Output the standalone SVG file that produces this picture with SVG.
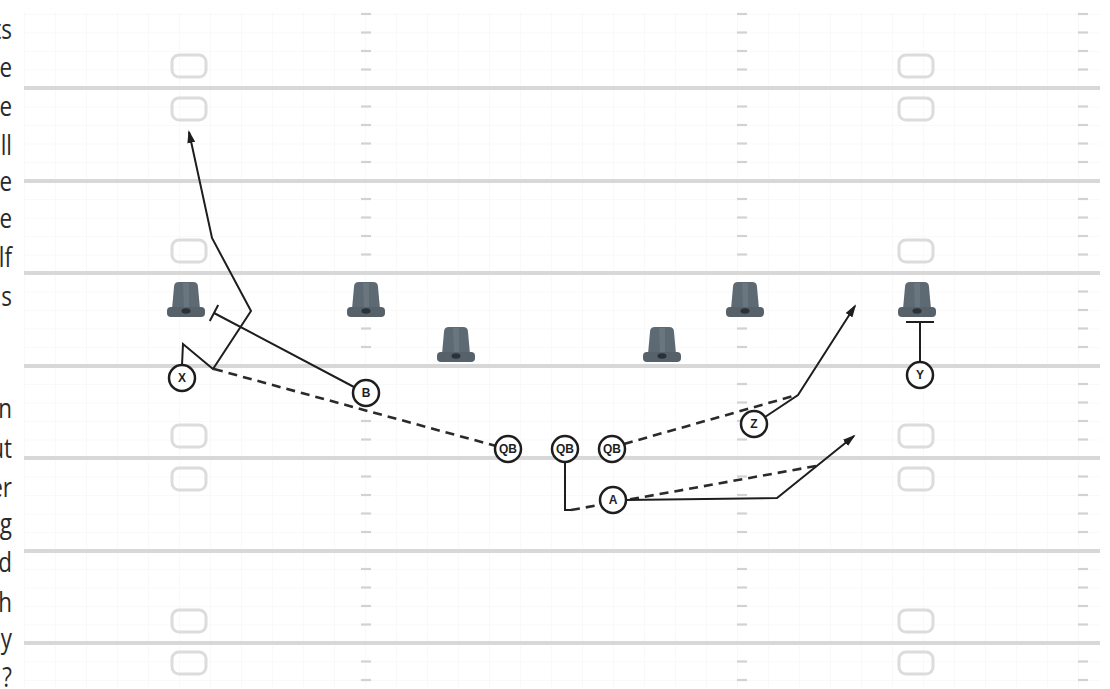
<svg xmlns="http://www.w3.org/2000/svg" width="1110" height="689" viewBox="0 0 1110 689">
<style>
.yard{stroke:#d8d8d8;stroke-width:4;fill:none}
.hash{stroke:#d2d2d2;stroke-width:2.2}
.num{fill:none;stroke:#dcdcdc;stroke-width:3}
.route{fill:none;stroke:#1e1e1e;stroke-width:2;stroke-linejoin:miter}
.dash{fill:none;stroke:#2a2a2a;stroke-width:2.6;stroke-dasharray:9 6}
.player circle{fill:#fff;stroke:#1e1e1e;stroke-width:2.5}
.player text{font-family:"Liberation Sans",Arial,sans-serif;font-size:12px;font-weight:bold;fill:#1e1e1e;text-anchor:middle}
.margin{font-family:"Open Sans","DejaVu Sans",sans-serif;font-size:28px;fill:#2a2a2a;text-anchor:end}
</style>
<defs>
<pattern id="grid" x="24" y="-4.5" width="31" height="18.5" patternUnits="userSpaceOnUse">
<path d="M0,0 V18.5 M0,0 H31" stroke="#f3f3f3" stroke-width="1" fill="none"/>
</pattern>
<marker id="arr" markerWidth="14" markerHeight="8" refX="11" refY="4" orient="auto" markerUnits="userSpaceOnUse">
<path d="M0,0 L13,4 L0,8 Z" fill="#1e1e1e"/>
</marker>
<g id="cone">
<path d="M-12,-31 Q-12,-36 -7,-36 L7,-36 Q12,-36 12,-31 L14,-9 L-14,-9 Z" fill="#5e6a73"/>
<path d="M-3,-35 L-2,-10 L3,-10 L3,-35 Z" fill="#76828a" opacity="0.5"/>
<rect x="-19" y="-11" width="38" height="10" rx="4" fill="#56616a"/>
<ellipse cx="0" cy="-7" rx="4.5" ry="2.8" fill="#2b3237"/>
</g>
<g id="hashcol">
<line class="hash" x1="-5" x2="5" y1="14" y2="14"/><line class="hash" x1="-5" x2="5" y1="32.5" y2="32.5"/><line class="hash" x1="-5" x2="5" y1="51" y2="51"/><line class="hash" x1="-5" x2="5" y1="69.5" y2="69.5"/>
</g>
<rect id="numbox" x="-17" y="-11" width="34" height="22" rx="7" class="num"/>
</defs>

<g id="field">
<rect x="24" y="12" width="1076" height="677" fill="#fff"/>
<rect x="24" y="12" width="1076" height="677" fill="url(#grid)"/>
<g id="hashes">
<use href="#hashcol" x="366" y="0"/><use href="#hashcol" x="366" y="92.5"/><use href="#hashcol" x="366" y="185"/><use href="#hashcol" x="366" y="277.5"/><use href="#hashcol" x="366" y="370"/><use href="#hashcol" x="366" y="462.5"/><use href="#hashcol" x="366" y="555"/><use href="#hashcol" x="366" y="647.5"/>
<use href="#hashcol" x="742" y="0"/><use href="#hashcol" x="742" y="92.5"/><use href="#hashcol" x="742" y="185"/><use href="#hashcol" x="742" y="277.5"/><use href="#hashcol" x="742" y="370"/><use href="#hashcol" x="742" y="462.5"/><use href="#hashcol" x="742" y="555"/><use href="#hashcol" x="742" y="647.5"/>
<use href="#hashcol" x="1083" y="0"/><use href="#hashcol" x="1083" y="92.5"/><use href="#hashcol" x="1083" y="185"/><use href="#hashcol" x="1083" y="277.5"/><use href="#hashcol" x="1083" y="370"/><use href="#hashcol" x="1083" y="462.5"/><use href="#hashcol" x="1083" y="555"/><use href="#hashcol" x="1083" y="647.5"/>
</g>
<g id="yardlines">
<line class="yard" x1="24" x2="1100" y1="88" y2="88"/>
<line class="yard" x1="24" x2="1100" y1="181" y2="181"/>
<line class="yard" x1="24" x2="1100" y1="273" y2="273"/>
<line class="yard" x1="24" x2="1100" y1="366" y2="366"/>
<line class="yard" x1="24" x2="1100" y1="458" y2="458"/>
<line class="yard" x1="24" x2="1100" y1="551" y2="551"/>
<line class="yard" x1="24" x2="1100" y1="643" y2="643"/>
</g>
<g id="numbers">
<use href="#numbox" x="189" y="66"/><use href="#numbox" x="189" y="109"/><use href="#numbox" x="916" y="66"/><use href="#numbox" x="916" y="109"/>
<use href="#numbox" x="189" y="251"/><use href="#numbox" x="916" y="251"/>
<use href="#numbox" x="189" y="436"/><use href="#numbox" x="189" y="479"/><use href="#numbox" x="916" y="436"/><use href="#numbox" x="916" y="479"/>
<use href="#numbox" x="189" y="621"/><use href="#numbox" x="189" y="663"/><use href="#numbox" x="916" y="621"/><use href="#numbox" x="916" y="663"/>
</g>
</g>

<g id="margin-text" transform="scale(0.8,1)">
<text class="margin" x="15" y="39">ts</text>
<text class="margin" x="15" y="77">e</text>
<text class="margin" x="15" y="116">e</text>
<text class="margin" x="15" y="155">ll</text>
<text class="margin" x="15" y="191">e</text>
<text class="margin" x="15" y="228">e</text>
<text class="margin" x="15" y="267">lf</text>
<text class="margin" x="15" y="306">s</text>
<text class="margin" x="15" y="418">n</text>
<text class="margin" x="15" y="458">ut</text>
<text class="margin" x="15" y="497">er</text>
<text class="margin" x="15" y="533">g</text>
<text class="margin" x="15" y="572">d</text>
<text class="margin" x="15" y="612">h</text>
<text class="margin" x="15" y="648">y</text>
<text class="margin" x="15" y="687">?</text>
</g>

<g id="cones">
<g id="cone1"><use href="#cone" x="186" y="318"/></g>
<g id="cone2"><use href="#cone" x="366" y="318"/></g>
<g id="cone3"><use href="#cone" x="456" y="363"/></g>
<g id="cone4"><use href="#cone" x="662" y="363"/></g>
<g id="cone5"><use href="#cone" x="745" y="318"/></g>
<g id="cone6"><use href="#cone" x="917" y="318"/></g>
</g>

<g id="connectors">
<path class="dash" d="M214,369 L496,446"/>
<path class="dash" d="M624,444 L797,395"/>
<path class="dash" d="M571,510 L816,466"/>
<path class="route" d="M182,365 L183,344 L213,369 L251,311 L212,238 L189,132" marker-end="url(#arr)"/>
<path class="route" d="M354,387 L214,313 M218.2,305 L209.8,321"/>
<path class="route" d="M765,417 L798,395 L855,306" marker-end="url(#arr)"/>
<path class="route" d="M626,500 L777,498 L854,436" marker-end="url(#arr)"/>
<path class="route" d="M565,462 L565,510 L571,510"/>
<path class="route" d="M920,362 L920,322 M906,322 L934,322"/>
</g>

<g id="player-X" class="player"><circle cx="182" cy="378" r="13"/><text x="182" y="382">X</text></g>
<g id="player-B" class="player"><circle cx="366" cy="393" r="13"/><text x="366" y="397">B</text></g>
<g id="player-QB1" class="player"><circle cx="508" cy="449" r="13"/><text x="508" y="453" font-size="10">QB</text></g>
<g id="player-QB2" class="player"><circle cx="565" cy="449" r="13"/><text x="565" y="453" font-size="10">QB</text></g>
<g id="player-QB3" class="player"><circle cx="612" cy="449" r="13"/><text x="612" y="453" font-size="10">QB</text></g>
<g id="player-A" class="player"><circle cx="613" cy="500" r="13"/><text x="613" y="504">A</text></g>
<g id="player-Z" class="player"><circle cx="754" cy="424" r="13"/><text x="754" y="428">Z</text></g>
<g id="player-Y" class="player"><circle cx="920" cy="375" r="13"/><text x="920" y="379">Y</text></g>
</svg>
